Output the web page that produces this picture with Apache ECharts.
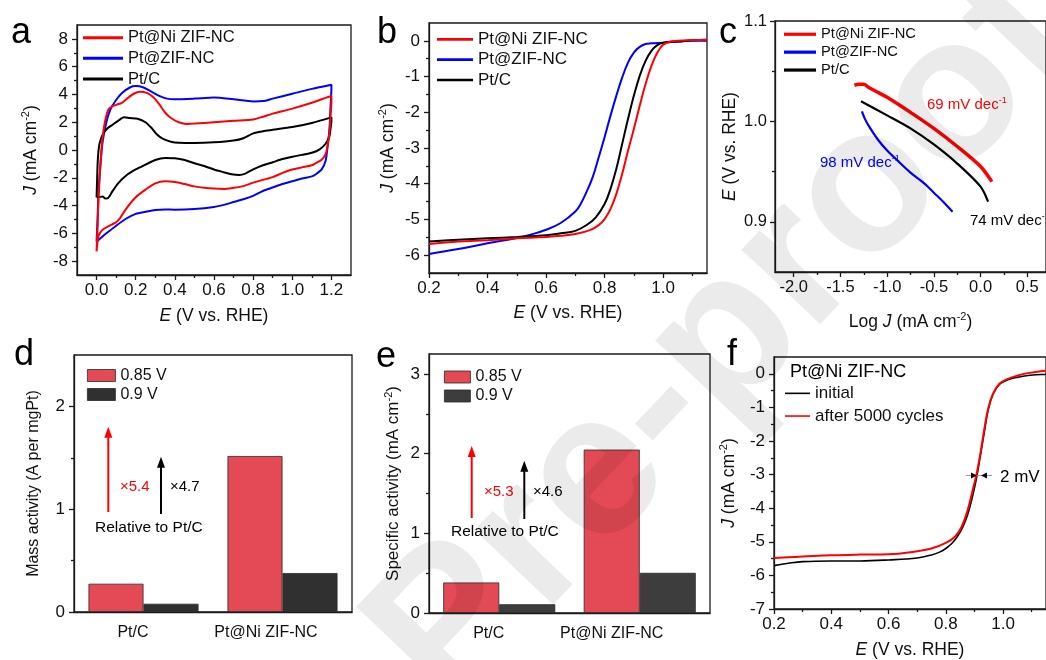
<!DOCTYPE html>
<html>
<head>
<meta charset="utf-8">
<script src="https://cdn.jsdelivr.net/npm/echarts@6/dist/echarts.min.js"></script>
<style>
  html, body { margin: 0; padding: 0; background: #fff; }
  #chart { width: 1046px; height: 660px; }
</style>
</head>
<body>
<div id="chart"></div>
<script>
// ---------- (a) cyclic voltammograms: [E (V vs. RHE), J (mA cm-2)] ----------
const cvNiZif = [
  [0.0,-7.3],[0.005,-5.5],[0.01,-3.5],[0.02,-1.0],[0.03,0.8],[0.045,2.2],[0.06,2.9],[0.08,3.15],
  [0.1,3.25],[0.13,3.4],[0.16,3.75],[0.19,4.05],[0.22,4.2],[0.26,4.1],[0.29,3.8],[0.32,3.3],
  [0.35,2.7],[0.38,2.3],[0.42,2.0],[0.46,1.88],[0.5,1.9],[0.6,2.0],[0.7,2.1],[0.8,2.2],[0.85,2.4],
  [0.9,2.62],[1.0,2.98],[1.1,3.4],[1.17,3.75],[1.2,3.9],
  [1.2,3.5],[1.195,2.4],[1.19,1.3],[1.18,0.3],[1.17,-0.3],[1.15,-0.7],[1.12,-0.95],[1.1,-1.1],
  [1.05,-1.25],[1.0,-1.4],[0.95,-1.65],[0.9,-1.95],[0.85,-2.15],[0.8,-2.35],[0.75,-2.6],[0.7,-2.72],
  [0.65,-2.8],[0.6,-2.78],[0.55,-2.72],[0.5,-2.62],[0.45,-2.45],[0.4,-2.3],[0.35,-2.25],[0.3,-2.4],
  [0.25,-2.85],[0.2,-3.4],[0.15,-4.25],[0.12,-4.9],[0.1,-5.2],[0.08,-5.35],[0.06,-5.5],[0.03,-5.75],
  [0.01,-6.2],[0.0,-7.3]
];
const cvZif = [
  [0.0,-6.6],[0.005,-5.0],[0.01,-3.0],[0.02,-1.0],[0.03,0.5],[0.05,2.0],[0.07,2.9],[0.1,3.6],
  [0.13,4.1],[0.17,4.5],[0.2,4.6],[0.24,4.5],[0.28,4.2],[0.32,3.9],[0.36,3.7],[0.4,3.65],[0.5,3.7],
  [0.6,3.78],[0.7,3.65],[0.8,3.5],[0.85,3.52],[0.9,3.7],[1.0,4.05],[1.1,4.4],[1.2,4.7],
  [1.2,4.5],[1.195,3.0],[1.19,1.5],[1.18,0.2],[1.17,-0.8],[1.15,-1.4],[1.12,-1.75],[1.1,-1.9],
  [1.05,-2.05],[1.0,-2.25],[0.95,-2.45],[0.9,-2.7],[0.85,-2.95],[0.8,-3.3],[0.75,-3.55],[0.7,-3.75],
  [0.65,-3.95],[0.6,-4.1],[0.5,-4.25],[0.4,-4.3],[0.35,-4.28],[0.3,-4.32],[0.25,-4.45],[0.2,-4.6],
  [0.15,-4.95],[0.1,-5.45],[0.05,-6.0],[0.02,-6.35],[0.0,-6.6]
];
const cvPtC = [
  [0.0,-3.4],[0.003,-2.0],[0.006,-0.8],[0.012,0.2],[0.02,0.7],[0.035,1.2],[0.055,1.55],[0.08,1.8],
  [0.11,2.1],[0.14,2.35],[0.17,2.3],[0.21,2.25],[0.25,2.0],[0.28,1.6],[0.31,1.1],[0.34,0.8],
  [0.38,0.6],[0.42,0.52],[0.5,0.5],[0.6,0.55],[0.7,0.68],[0.75,0.85],[0.8,1.2],[0.85,1.35],
  [0.9,1.45],[1.0,1.65],[1.1,1.95],[1.2,2.35],
  [1.2,2.1],[1.195,1.5],[1.19,1.0],[1.17,0.45],[1.14,0.05],[1.1,-0.2],[1.05,-0.35],[1.0,-0.48],
  [0.95,-0.65],[0.9,-0.88],[0.85,-1.1],[0.8,-1.4],[0.76,-1.7],[0.73,-1.8],[0.69,-1.75],[0.65,-1.6],
  [0.6,-1.4],[0.55,-1.15],[0.5,-0.95],[0.45,-0.72],[0.4,-0.6],[0.35,-0.58],[0.3,-0.72],[0.25,-1.05],
  [0.2,-1.4],[0.15,-1.85],[0.11,-2.4],[0.08,-3.0],[0.06,-3.45],[0.045,-3.5],[0.03,-3.35],[0.01,-3.4],
  [0.0,-3.4]
];

// ---------- (b) ORR polarisation curves ----------
const lsvNiZif = [
  [0.2,-5.69],[0.3,-5.62],[0.4,-5.58],[0.5,-5.53],[0.6,-5.49],[0.65,-5.46],[0.7,-5.41],[0.75,-5.3],
  [0.78,-5.16],[0.8,-4.99],[0.82,-4.71],[0.84,-4.29],[0.86,-3.73],[0.88,-3.08],[0.9,-2.47],
  [0.92,-1.82],[0.94,-1.21],[0.96,-0.7],[0.98,-0.33],[1.0,-0.11],[1.02,-0.03],[1.05,0.0],
  [1.1,0.02],[1.15,0.03]
];
const lsvZif = [
  [0.2,-5.97],[0.3,-5.83],[0.4,-5.67],[0.5,-5.52],[0.55,-5.42],[0.6,-5.29],[0.65,-5.1],[0.7,-4.78],
  [0.72,-4.54],[0.74,-4.2],[0.76,-3.8],[0.78,-3.26],[0.8,-2.7],[0.82,-2.1],[0.84,-1.54],[0.86,-1.03],
  [0.88,-0.61],[0.9,-0.33],[0.92,-0.17],[0.94,-0.09],[0.96,-0.07],[1.0,-0.05],[1.05,-0.02],
  [1.1,0.0],[1.15,0.0]
];
const lsvPtC = [
  [0.2,-5.62],[0.3,-5.57],[0.4,-5.53],[0.5,-5.49],[0.6,-5.44],[0.65,-5.39],[0.7,-5.32],[0.74,-5.15],
  [0.77,-4.94],[0.8,-4.57],[0.82,-4.15],[0.84,-3.59],[0.86,-2.89],[0.88,-2.19],[0.9,-1.54],
  [0.92,-0.98],[0.94,-0.56],[0.96,-0.28],[0.98,-0.12],[1.0,-0.05],[1.05,-0.02],[1.1,0.02],[1.15,0.03]
];

// ---------- (c) Tafel plots: [log J, E] ----------
const tafelNiZif = [
  [-1.35,1.036],[-1.3,1.037],[-1.25,1.037],[-1.2,1.034],[-1.1,1.029],[-1.0,1.024],[-0.75,1.009],
  [-0.5,0.993],[-0.25,0.975],[0.0,0.955],[0.12,0.94]
];
const tafelZif = [
  [-1.27,1.01],[-1.24,1.003],[-1.2,0.996],[-1.1,0.982],[-1.0,0.971],[-0.9,0.962],
  [-0.75,0.949],[-0.6,0.938],[-0.5,0.929],[-0.4,0.92],[-0.3,0.91]
];
const tafelPtC = [
  [-1.28,1.02],[-1.0,1.006],[-0.75,0.993],[-0.5,0.977],[-0.25,0.958],[0.0,0.935],[0.08,0.92]
];

// ---------- (d, e) activities at 0.85 V and 0.9 V ----------
const catalysts = ['Pt/C', 'Pt@Ni ZIF-NC'];
const massAct085 = [0.275, 1.517];
const massAct090 = [0.08, 0.379];
const specAct085 = [0.383, 2.05];
const specAct090 = [0.11, 0.504];

// ---------- (f) durability of Pt@Ni ZIF-NC ----------
const durInitial = [
  [0.2,-5.71],[0.25,-5.64],[0.3,-5.59],[0.4,-5.57],[0.5,-5.57],[0.6,-5.54],[0.7,-5.48],[0.75,-5.39],
  [0.78,-5.3],[0.8,-5.2],[0.82,-5.06],[0.84,-4.85],[0.86,-4.55],[0.876,-4.2],[0.892,-3.7],
  [0.907,-3.12],[0.922,-2.38],[0.936,-1.66],[0.948,-1.08],[0.965,-0.61],[0.988,-0.31],[1.017,-0.18],
  [1.052,-0.1],[1.087,-0.05],[1.133,-0.02],[1.15,-0.02]
];
const durAfter = [
  [0.2,-5.48],[0.25,-5.46],[0.3,-5.44],[0.4,-5.4],[0.5,-5.38],[0.6,-5.37],[0.7,-5.28],[0.75,-5.2],
  [0.8,-5.03],[0.832,-4.85],[0.855,-4.56],[0.876,-4.07],[0.892,-3.53],[0.907,-3.0],[0.922,-2.31],
  [0.936,-1.57],[0.948,-1.03],[0.965,-0.59],[0.988,-0.29],[1.017,-0.15],[1.052,-0.05],[1.087,0.02],
  [1.133,0.08],[1.15,0.09]
];

// ---------- tick values ----------
const ticksA_x = [0, 0.2, 0.4, 0.6, 0.8, 1.0, 1.2];
const ticksA_xm = [0.1, 0.3, 0.5, 0.7, 0.9, 1.1];
const ticksA_y = [-8, -6, -4, -2, 0, 2, 4, 6, 8];
const ticksA_ym = [-7, -5, -3, -1, 1, 3, 5, 7];
const ticksB_x = [0.2, 0.4, 0.6, 0.8, 1.0];
const ticksB_xm = [0.3, 0.5, 0.7, 0.9, 1.1];
const ticksB_y = [-6, -5, -4, -3, -2, -1, 0];
const ticksB_ym = [-5.5, -4.5, -3.5, -2.5, -1.5, -0.5];
const ticksC_x = [-2.0, -1.5, -1.0, -0.5, 0.0, 0.5];
const ticksC_xm = [-1.75, -1.25, -0.75, -0.25, 0.25];
const ticksC_y = [0.9, 1.0, 1.1];
const ticksC_ym = [0.95, 1.05];
const ticksD_y = [0, 1, 2];
const ticksD_ym = [0.5, 1.5];
const ticksE_y = [0, 1, 2, 3];
const ticksE_ym = [0.5, 1.5, 2.5];
const ticksF_x = [0.2, 0.4, 0.6, 0.8, 1.0];
const ticksF_xm = [0.3, 0.5, 0.7, 0.9, 1.1];
const ticksF_y = [-7, -6, -5, -4, -3, -2, -1, 0];
const ticksF_ym = [-6.5, -5.5, -4.5, -3.5, -2.5, -1.5, -0.5];

// ---------- styling ----------
const FONT = '"Liberation Sans", Arial, Helvetica, sans-serif';
const AX = '#1a1a1a';
const TXT = '#111';
const RED = '#ff0000', BLUE = '#0000ff', BLACK = '#000000';
const BAR_RED = '#e34a55', BAR_DARK_D = '#303030', BAR_DARK_E = '#3d3d3d';

function richName(fs) {
  return {
    i: { fontStyle: 'italic', fontSize: fs, fontFamily: FONT, color: TXT },
    s: { fontSize: Math.round(fs * 0.62), fontFamily: FONT, color: TXT, padding: [0, 0, Math.round(fs * 0.6), 0] }
  };
}

const grids = [
  { left: 77,  top: 25,  width: 274, height: 250 },   // a
  { left: 429, top: 23,  width: 278, height: 250 },   // b
  { left: 775, top: 21,  width: 276, height: 251 },   // c
  { left: 74,  top: 355, width: 278, height: 257 },   // d
  { left: 429, top: 354, width: 281, height: 259 },   // e
  { left: 774, top: 357, width: 274, height: 254 }    // f
].map(g => Object.assign(g, { show: true, borderColor: AX, borderWidth: 1.3, backgroundColor: 'transparent' }));

const xAxes = [], yAxes = [];

// value axis with major ticks/labels plus an overlaid axis carrying the minor ticks
function valueAxis(list, dim, grid, o) {
  const pos = dim === 'x' ? 'bottom' : 'left';
  const line = { color: AX, width: 1.3 };
  const nfs = o.nfs || 17.5;
  list.push({
    type: 'value', gridIndex: grid, min: o.min, max: o.max, position: pos,
    axisLine: { show: true, onZero: false, lineStyle: line },
    axisTick: { show: true, inside: false, length: 5, lineStyle: line, customValues: o.major },
    axisLabel: {
      show: true, customValues: o.major, margin: o.margin, fontSize: o.fs || 17,
      color: TXT, fontFamily: FONT, formatter: v => Number(v).toFixed(o.digits)
    },
    splitLine: { show: false },
    name: o.name, nameLocation: 'middle', nameGap: o.nameGap,
    nameTextStyle: { fontSize: nfs, color: TXT, fontFamily: FONT, rich: richName(nfs) }
  });
  const idx = list.length - 1;
  list.push({
    type: 'value', gridIndex: grid, min: o.min, max: o.max, position: pos,
    axisLine: { show: false, onZero: false },
    axisTick: { show: true, inside: false, length: 3, lineStyle: line, customValues: o.minor },
    axisLabel: { show: false }, splitLine: { show: false }
  });
  return idx;
}

function categoryAxis(list, grid, pads) {
  list.push({
    type: 'category', gridIndex: grid, data: catalysts, position: 'bottom',
    axisLine: { show: true, onZero: false, lineStyle: { color: AX, width: 1.3 } },
    axisTick: { show: false },
    axisLabel: {
      interval: 0, margin: 13, fontSize: 16, color: TXT, fontFamily: FONT,
      formatter: v => (v === catalysts[0] ? '{p|' + v + '}' : '{q|' + v + '}'),
      rich: {
        p: { fontSize: 16, fontFamily: FONT, color: TXT, padding: [0, pads[0], 0, 0] },
        q: { fontSize: 16, fontFamily: FONT, color: TXT, padding: [0, pads[1], 0, 0] }
      }
    },
    splitLine: { show: false }
  });
  return list.length - 1;
}

const E_NAME = '{i|E} (V vs. RHE)';
const J_NAME = '{i|J} (mA cm{s|-2})';

// (a)
const ax = valueAxis(xAxes, 'x', 0, { min: -0.1, max: 1.3, major: ticksA_x, minor: ticksA_xm, digits: 1, margin: 7, name: E_NAME, nameGap: 32 });
const ay = valueAxis(yAxes, 'y', 0, { min: -9, max: 9, major: ticksA_y, minor: ticksA_ym, digits: 0, margin: 9, name: J_NAME, nameGap: 35 });
// (b)
const bx = valueAxis(xAxes, 'x', 1, { min: 0.2, max: 1.15, major: ticksB_x, minor: ticksB_xm, digits: 1, margin: 7, name: E_NAME, nameGap: 31 });
const by = valueAxis(yAxes, 'y', 1, { min: -6.5, max: 0.5, major: ticksB_y, minor: ticksB_ym, digits: 0, margin: 9, name: J_NAME, nameGap: 30 });
// (c)
const cx = valueAxis(xAxes, 'x', 2, { min: -2.2, max: 0.7, major: ticksC_x, minor: ticksC_xm, digits: 1, margin: 7, fs: 16.5, name: 'Log {i|J} (mA cm{s|-2})', nameGap: 39 });
const cy = valueAxis(yAxes, 'y', 2, { min: 0.85, max: 1.1, major: ticksC_y, minor: ticksC_ym, digits: 1, margin: 8, fs: 16.5, name: E_NAME, nameGap: 36 });
// (d)
const dx = categoryAxis(xAxes, 3, [21, 33]);
const dy = valueAxis(yAxes, 'y', 3, { min: 0, max: 2.5, major: ticksD_y, minor: ticksD_ym, digits: 0, margin: 9, name: 'Mass activity (A per mgPt)', nameGap: 32, nfs: 16 });
// (e)
const ex = categoryAxis(xAxes, 4, [21, 56]);
const ey = valueAxis(yAxes, 'y', 4, { min: 0, max: 3.25, major: ticksE_y, minor: ticksE_ym, digits: 0, margin: 9, name: 'Specific activity (mA cm{s|-2})', nameGap: 25, nfs: 17 });
// (f)
const fx = valueAxis(xAxes, 'x', 5, { min: 0.2, max: 1.15, major: ticksF_x, minor: ticksF_xm, digits: 1, margin: 7, name: E_NAME, nameGap: 32 });
const fy = valueAxis(yAxes, 'y', 5, { min: -7, max: 0.5, major: ticksF_y, minor: ticksF_ym, digits: 0, margin: 9, name: J_NAME, nameGap: 34 });

function curve(name, data, color, xi, yi, width, smooth) {
  return {
    type: 'line', name, data, xAxisIndex: xi, yAxisIndex: yi,
    symbol: 'none', showSymbol: false, smooth: smooth,
    lineStyle: { color, width }, itemStyle: { color }, clip: true, z: 3
  };
}
function bars(name, data, color, xi, yi, width) {
  return {
    type: 'bar', name, data, xAxisIndex: xi, yAxisIndex: yi,
    barWidth: width, barGap: '0%',
    itemStyle: { color, borderColor: '#2a2a2a', borderWidth: 0.8 }
  };
}

const series = [
  curve('Pt@ZIF-NC', cvZif, BLUE, ax, ay, 2, 0.25),
  curve('Pt/C', cvPtC, BLACK, ax, ay, 2, 0.25),
  curve('Pt@Ni ZIF-NC', cvNiZif, RED, ax, ay, 2, 0.25),

  curve('Pt@ZIF-NC', lsvZif, BLUE, bx, by, 2, 0.4),
  curve('Pt/C', lsvPtC, BLACK, bx, by, 2, 0.4),
  curve('Pt@Ni ZIF-NC', lsvNiZif, RED, bx, by, 2, 0.4),

  curve('Pt@Ni ZIF-NC', tafelNiZif, RED, cx, cy, 3.5, 0.3),
  curve('Pt@ZIF-NC', tafelZif, BLUE, cx, cy, 2.2, 0.3),
  curve('Pt/C', tafelPtC, BLACK, cx, cy, 2.2, 0.3),

  bars('0.85 V', massAct085, BAR_RED, dx, dy, 55),
  bars('0.9 V', massAct090, BAR_DARK_D, dx, dy, 55),
  bars('0.85 V', specAct085, BAR_RED, ex, ey, 56),
  bars('0.9 V', specAct090, BAR_DARK_E, ex, ey, 56),

  curve('initial', durInitial, BLACK, fx, fy, 1.6, 0.4),
  curve('after 5000 cycles', durAfter, RED, fx, fy, 2, 0.4)
];

function lineLegend(left, top, width, thick, fs, rowH, names) {
  return {
    orient: 'vertical', left, top, padding: 0, itemGap: 0, selectedMode: false,
    icon: 'rect', itemWidth: width, itemHeight: thick,
    textStyle: { fontSize: fs, lineHeight: rowH, color: TXT, fontFamily: FONT },
    data: names
  };
}
function barLegend(left, top, w, darkColor) {
  return {
    orient: 'vertical', left, top, padding: 0, itemGap: 0, selectedMode: false,
    icon: 'rect', itemWidth: w, itemHeight: 12,
    textStyle: { fontSize: 16, lineHeight: 19, color: TXT, fontFamily: FONT },
    data: [
      { name: '0.85 V', itemStyle: { color: BAR_RED, borderColor: '#2a2a2a', borderWidth: 0.8 } },
      { name: '0.9 V', itemStyle: { color: darkColor, borderColor: '#2a2a2a', borderWidth: 0.8 } }
    ]
  };
}
const legendNames = ['Pt@Ni ZIF-NC', 'Pt@ZIF-NC', 'Pt/C'];
const legends = [
  lineLegend(83, 27.3, 40, 3, 16.5, 20.7, legendNames),
  lineLegend(437, 29.2, 36, 2.6, 17, 20.3, legendNames),
  lineLegend(784, 25.3, 32, 3.2, 14.7, 17.9, legendNames),
  barLegend(87, 366, 28, BAR_DARK_D),
  barLegend(444, 367.5, 26, BAR_DARK_E),
  lineLegend(785, 382, 25, 1.6, 17, 22.7, ['initial', 'after 5000 cycles'])
];

// ---------- annotations ----------
function label(x, y, text, color, fs, extra) {
  return Object.assign({
    type: 'text', x, y, z: 50, silent: true,
    style: {
      text, fill: color, fontSize: fs, fontFamily: FONT, verticalAlign: 'middle', align: 'left',
      rich: {
        s: { fontSize: Math.round(fs * 0.62), fontFamily: FONT, fill: color, padding: [0, 0, Math.round(fs * 0.6), 0] }
      }
    }
  }, extra || {});
}
function upArrow(x, yFrom, yTo, color) {
  return [
    { type: 'line', z: 50, silent: true, shape: { x1: x, y1: yFrom, x2: x, y2: yTo + 8 }, style: { stroke: color, lineWidth: 2 } },
    { type: 'polygon', z: 50, silent: true, shape: { points: [[x - 4, yTo + 11], [x + 4, yTo + 11], [x, yTo]] }, style: { fill: color } }
  ];
}

const graphics = [
  label(11, 33, 'a', '#000', 36),
  label(377, 33, 'b', '#000', 36),
  label(719, 33, 'c', '#000', 36),
  label(14, 355, 'd', '#000', 36),
  label(376, 357, 'e', '#000', 36),
  label(727, 355, 'f', '#000', 36),

  label(927, 105, '69 mV dec{s|-1}', RED, 15),
  label(820, 163, '98 mV dec{s|-1}', BLUE, 15),
  label(970, 221, '74 mV dec{s|-1}', BLACK, 15),

  ...upArrow(108.3, 512, 426.7, RED),
  ...upArrow(161, 514, 456.7, BLACK),
  label(120, 487, '×5.4', RED, 15),
  label(170, 487, '×4.7', BLACK, 15),
  label(95, 528, 'Relative to Pt/C', BLACK, 15.5),

  ...upArrow(471.7, 518, 446, RED),
  ...upArrow(524.3, 519, 460.7, BLACK),
  label(484, 492, '×5.3', RED, 15),
  label(533, 492, '×4.6', BLACK, 15),
  label(451, 532, 'Relative to Pt/C', BLACK, 15.5),

  label(790, 372, 'Pt@Ni ZIF-NC', BLACK, 18),
  { type: 'line', z: 50, silent: true, shape: { x1: 966, y1: 475.5, x2: 992, y2: 475.5 }, style: { stroke: '#999', lineWidth: 1 } },
  { type: 'polygon', z: 51, silent: true, shape: { points: [[971, 472.5], [971, 478.5], [977, 475.5]] }, style: { fill: '#000' } },
  { type: 'polygon', z: 51, silent: true, shape: { points: [[987, 472.5], [987, 478.5], [981, 475.5]] }, style: { fill: '#000' } },
  label(1000, 477, '2 mV', BLACK, 17),

  // diagonal proof watermark laid over the whole figure
  {
    type: 'text', x: 408, y: 675, rotation: 0.81, z: 100, silent: true,
    style: {
      text: 'Pre-proofs', fontSize: 205, fontWeight: 'bold', fontFamily: FONT,
      fill: 'rgba(0,0,0,0.08)', verticalAlign: 'middle', align: 'left'
    }
  }
];

const chart = echarts.init(document.getElementById('chart'), null, { renderer: 'canvas' });
chart.setOption({
  animation: false,
  backgroundColor: '#ffffff',
  textStyle: { fontFamily: FONT },
  grid: grids,
  xAxis: xAxes,
  yAxis: yAxes,
  legend: legends,
  series: series,
  graphic: graphics
});
</script>
</body>
</html>
